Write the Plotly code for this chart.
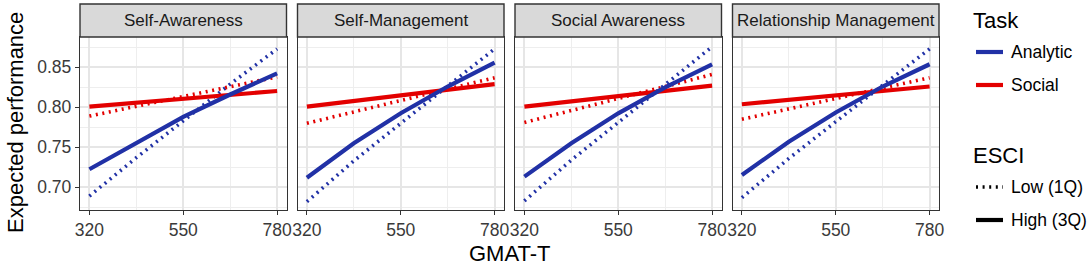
import plotly.graph_objects as go

# ---------------- data ----------------
panels = ["Self-Awareness", "Self-Management", "Social Awareness", "Relationship Management"]
gmat = [320, 435, 550, 665, 780]

analytic_high = [
    [0.7225, 0.756, 0.788, 0.816, 0.8425],
    [0.712, 0.755, 0.7925, 0.826, 0.8558],
    [0.7133, 0.755, 0.7925, 0.825, 0.8538],
    [0.7154, 0.757, 0.7935, 0.826, 0.8538],
]
analytic_low = [
    [0.689, 0.737, 0.783, 0.829, 0.873],
    [0.682, 0.733, 0.780, 0.827, 0.873],
    [0.683, 0.734, 0.781, 0.829, 0.8758],
    [0.687, 0.736, 0.782, 0.828, 0.873],
]
social_high = [
    [0.8008, 0.8057, 0.8106, 0.8155, 0.8204],
    [0.8008, 0.808, 0.815, 0.822, 0.829],
    [0.8008, 0.807, 0.814, 0.8205, 0.827],
    [0.8038, 0.8094, 0.815, 0.8205, 0.826],
]
social_low = [
    [0.789, 0.801, 0.8135, 0.826, 0.838],
    [0.780, 0.794, 0.8085, 0.823, 0.837],
    [0.781, 0.796, 0.811, 0.826, 0.841],
    [0.785, 0.798, 0.811, 0.824, 0.837],
]
x_ticks = [320, 550, 780]
y_ticks = [0.70, 0.75, 0.80, 0.85]
y_tick_labels = ["0.70", "0.75", "0.80", "0.85"]
task_labels = ["Analytic", "Social"]
esci_labels = ["Low (1Q)", "High (3Q)"]

# ---------------- style ----------------
BLUE = "#2131A6"
RED = "#E30000"
FONT = "Liberation Sans, Arial, sans-serif"
W, H = 1091, 265
ML, MR, MT, MB = 80, 152, 37, 55
PW = W - ML - MR
PH = H - MT - MB
GAP = 11
pw = (PW - 3 * GAP) / 4
DOT = "2px,4.6px"
DOT_W = 3.6
SOLID_W = 4.2

def px2x(px):
    return (px - ML) / PW

def py2y(py):
    return (H - MB - py) / PH

fig = go.Figure()

series = [
    (analytic_low, BLUE, DOT_W, DOT),
    (social_low, RED, DOT_W, DOT),
    (social_high, RED, SOLID_W, "solid"),
    (analytic_high, BLUE, SOLID_W, "solid"),
]

shapes = []
annotations = []
for i, name in enumerate(panels):
    ax = "" if i == 0 else str(i + 1)
    for vals, col, w, dash in series:
        fig.add_trace(go.Scatter(
            x=gmat, y=vals[i], mode="lines", xaxis="x" + ax, yaxis="y" + ax,
            line=dict(color=col, width=w, dash=dash), showlegend=False, hoverinfo="skip",
        ))
    d0 = i * (pw + GAP) / PW
    d1 = (i * (pw + GAP) + pw) / PW
    common_axis = dict(
        showline=True, mirror=True, linecolor="#333333", linewidth=1.4,
        ticks="outside", ticklen=4, tickcolor="#333333", tickwidth=1.2,
        showgrid=True, gridcolor="#E6E6E6", gridwidth=1.6, zeroline=False,
        tickfont=dict(family=FONT, size=17.5, color="#3A3A3A"),
    )
    fig.update_layout(**{
        "xaxis" + ax: dict(
            common_axis, domain=[d0, d1], range=[297, 803], tickvals=x_ticks,
            ticktext=[str(v) for v in x_ticks], anchor="y" + ax,
            minor=dict(tickvals=[435, 665], showgrid=True, gridcolor="#EEEEEE", gridwidth=1.2, ticks=""),
        ),
        "yaxis" + ax: dict(
            common_axis, domain=[0, 1], range=[0.6716, 0.8879], tickvals=y_ticks,
            ticktext=y_tick_labels, anchor="x" + ax, showticklabels=(i == 0),
            ticks="outside" if i == 0 else "",
            minor=dict(tickvals=[0.675, 0.725, 0.775, 0.825, 0.875], showgrid=True,
                       gridcolor="#EEEEEE", gridwidth=1.2, ticks=""),
        ),
    })
    # strip
    shapes.append(dict(type="rect", xref="paper", yref="paper", x0=d0, x1=d1,
                       y0=1.0, y1=py2y(4), fillcolor="#D9D9D9",
                       line=dict(color="#333333", width=1.4), layer="above"))
    annotations.append(dict(text=name, xref="paper", yref="paper", x=(d0 + d1) / 2,
                            y=(1.0 + py2y(4)) / 2, showarrow=False, xanchor="center",
                            yanchor="middle", font=dict(family=FONT, size=17, color="#1A1A1A")))

# axis titles
annotations.append(dict(text="Expected performance", xref="paper", yref="paper",
                        x=px2x(15), y=py2y(123), textangle=-90, showarrow=False,
                        xanchor="center", yanchor="middle",
                        font=dict(family=FONT, size=22, color="black")))
annotations.append(dict(text="GMAT-T", xref="paper", yref="paper",
                        x=px2x(509.5), y=py2y(253), showarrow=False,
                        xanchor="center", yanchor="middle",
                        font=dict(family=FONT, size=22, color="black")))

# manual legend
def legend_text(txt, px, py, size):
    annotations.append(dict(text=txt, xref="paper", yref="paper", x=px2x(px), y=py2y(py),
                            showarrow=False, xanchor="left", yanchor="middle",
                            font=dict(family=FONT, size=size, color="black")))

legend_text("Task", 971, 20, 22)
key_x0, key_x1 = 976, 1003
for lbl, col, py in [(task_labels[0], BLUE, 52), (task_labels[1], RED, 85)]:
    shapes.append(dict(type="line", xref="paper", yref="paper", x0=px2x(key_x0), x1=px2x(key_x1),
                       y0=py2y(py), y1=py2y(py), line=dict(color=col, width=SOLID_W)))
    legend_text(lbl, 1009, py, 17.5)
legend_text("ESCI", 971, 155, 22)
for lbl, dash, w, py in [(esci_labels[0], DOT, DOT_W, 187), (esci_labels[1], "solid", SOLID_W, 220)]:
    shapes.append(dict(type="line", xref="paper", yref="paper", x0=px2x(key_x0), x1=px2x(key_x1),
                       y0=py2y(py), y1=py2y(py), line=dict(color="black", width=w, dash=dash)))
    legend_text(lbl, 1009, py, 17.5)

fig.update_layout(
    width=W, height=H, margin=dict(l=ML, r=MR, t=MT, b=MB),
    paper_bgcolor="white", plot_bgcolor="white",
    shapes=shapes, annotations=annotations, showlegend=False,
    font=dict(family=FONT),
)
fig.write_html("out.html", config={"displayModeBar": False},
               post_script="document.body.style.margin='0';document.body.style.overflow='hidden';")
